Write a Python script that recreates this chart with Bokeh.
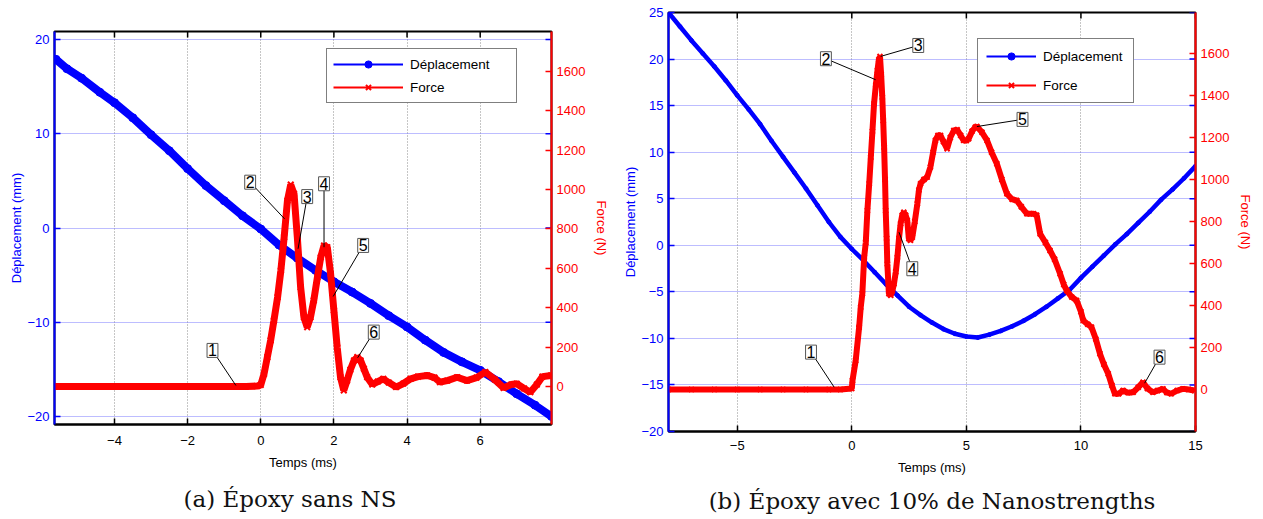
from math import pi
from bokeh.plotting import figure
from bokeh.models import Range1d, LinearAxis, FixedTicker, Legend, LegendItem, Title
from bokeh.embed import file_html
from bokeh.resources import INLINE
from bokeh.core.properties import value

# ---------------- Panel (a): Époxy sans NS ----------------
a_time_disp = [-5.6, -5.3, -4.9, -4.4, -4.0, -3.5, -3.0, -2.5, -2.0, -1.5, -1.0, -0.5, 0.0,
               0.5, 1.0, 1.5, 2.0, 2.5, 3.0, 3.5, 4.0, 4.5, 5.0, 5.5, 6.0, 6.5, 7.0, 7.5, 7.95]
a_disp = [17.9, 16.9, 15.9, 14.4, 13.3, 11.7, 9.9, 8.2, 6.3, 4.5, 2.9, 1.3, -0.1,
          -1.8, -3.2, -4.5, -5.7, -6.8, -8.0, -9.3, -10.5, -11.9, -13.2, -14.2, -15.1, -16.3, -17.6, -18.8, -20.0]

a_time_force = [-5.64, -5.2, -4.8, -4.4, -4.0, -3.6, -3.2, -2.8, -2.4, -2.0, -1.6, -1.2, -0.8, -0.4, -0.1,
                0.0, 0.09, 0.18, 0.27, 0.36, 0.46, 0.55, 0.64, 0.73, 0.82,
                0.91, 1.0, 1.09, 1.18, 1.27, 1.36, 1.45, 1.55, 1.64, 1.73,
                1.82, 1.91, 2.0, 2.09, 2.18, 2.27, 2.36, 2.45, 2.55, 2.64,
                2.73, 2.82, 2.91, 3.05, 3.2, 3.35, 3.5, 3.7, 3.9, 4.1,
                4.3, 4.55, 4.75, 4.9, 5.1, 5.37, 5.64, 5.9, 6.14, 6.4,
                6.64, 6.85, 7.0, 7.2, 7.37, 7.55, 7.7, 7.94]
a_force = [0, 0, 0, 0, 0, 0, 0, 0, 0, 0, 0, 0, 0, 0, 2,
           8, 64, 149, 234, 335, 453, 589, 758, 944, 1025,
           978, 758, 504, 352, 301, 352, 437, 555, 656, 716,
           707, 572, 386, 199, 47, -20, 30, 85, 132, 149,
           132, 90, 47, 10, 25, 39, 20, -3, 15, 39,
           50, 56, 45, 22, 30, 47, 30, 45, 73, 35,
           -7, 10, 14, -10, -29, 10, 50, 56]

a_x_ticks = [-4, -2, 0, 2, 4, 6]
a_disp_ticks = [-20, -10, 0, 10, 20]

a_ann_labels = ["1", "2", "3", "4", "5", "6"]
a_ann_box_t = [-1.32, -0.29, 1.27, 1.73, 2.80, 3.09]
a_ann_box_f = [183, 1037, 964, 1029, 716, 276]
a_ann_tip_t = [-0.68, 0.65, 1.02, 1.73, 1.98, 2.65]
a_ann_tip_f = [5, 851, 699, 707, 457, 146]

# ---------------- Panel (b): Époxy avec 10% de Nanostrengths ----------------
b_time_disp = [-8.0, -7.5, -7.0, -6.5, -6.0, -5.5, -5.0, -4.5, -4.0, -3.5, -3.0, -2.5, -2.0, -1.5, -1.0, -0.5,
               0.0, 0.5, 1.0, 1.5, 2.0, 2.5, 3.0, 3.5, 4.0, 4.5, 5.0, 5.5, 6.0, 6.5, 7.0, 7.5,
               8.0, 8.5, 9.0, 9.5, 10.0, 10.5, 11.0, 11.5, 12.0, 12.5, 13.0, 13.5, 14.0, 14.5, 15.0]
b_disp = [25.0, 23.5, 22.0, 20.6, 19.2, 17.7, 16.1, 14.6, 13.0, 11.2, 9.5, 7.8, 6.1, 4.3, 2.5, 0.9,
          -0.4, -1.6, -2.9, -4.2, -5.4, -6.6, -7.5, -8.3, -9.0, -9.5, -9.8, -9.9, -9.6, -9.2, -8.7, -8.1,
          -7.4, -6.6, -5.7, -4.8, -3.5, -2.3, -1.1, 0.1, 1.2, 2.4, 3.6, 4.9, 6.0, 7.2, 8.5]

b_time_force = [-8.0, -7.0, -6.0, -5.0, -4.0, -3.0, -2.0, -1.0, -0.5, 0.0,
                0.03, 0.17, 0.32, 0.39, 0.46, 0.54, 0.61, 0.68, 0.76, 0.83,
                0.9, 0.97, 1.05, 1.12, 1.18, 1.23, 1.28, 1.33, 1.37, 1.41,
                1.45, 1.48, 1.52, 1.55, 1.62, 1.7, 1.77, 1.84, 1.92, 1.99,
                2.06, 2.13, 2.2, 2.27, 2.35, 2.42, 2.49, 2.56, 2.64, 2.75,
                2.86, 2.93, 3.0, 3.15, 3.29, 3.43, 3.55, 3.65, 3.76, 3.87,
                4.0, 4.16, 4.3, 4.45, 4.6, 4.75, 4.88, 5.0, 5.1, 5.25,
                5.39, 5.46, 5.68, 5.9, 6.1, 6.33, 6.55, 6.77, 7.0, 7.2,
                7.4, 7.64, 7.93, 8.07, 8.22, 8.45, 8.65, 8.85, 9.09, 9.25,
                9.38, 9.6, 9.81, 10.0, 10.1, 10.3, 10.46, 10.65, 10.83, 11.0,
                11.19, 11.35, 11.48, 11.65, 11.84, 12.05, 12.28, 12.5, 12.71, 12.9,
                13.14, 13.35, 13.58, 13.75, 13.94, 14.2, 14.45, 14.7, 14.95]
b_force = [0, 0, 0, 0, 0, 0, 0, 0, 0, 5,
           43, 138, 297, 392, 456, 630, 700, 852, 980, 1106,
           1230, 1360, 1450, 1519, 1570, 1586, 1500, 1392, 1280, 1154,
           1000, 852, 720, 598, 456, 448, 470, 503, 560, 630,
           720, 789, 830, 844, 830, 805, 718, 710, 725, 800,
           884, 950, 980, 1000, 1011, 1059, 1130, 1186, 1210, 1210,
           1180, 1146, 1200, 1233, 1237, 1210, 1186, 1185, 1194, 1230,
           1249, 1252, 1225, 1186, 1130, 1075, 1000, 932, 905, 900,
           870, 837, 837, 830, 741, 700, 662, 620, 551, 500,
           471, 440, 424, 370, 329, 310, 297, 240, 170, 120,
           75, 20, -20, -20, -5, -15, -13, 10, 35, 5,
           -13, -5, 3, -15, -20, -5, 3, 0, -5]

b_x_ticks = [-5, 0, 5, 10, 15]
b_disp_ticks = [-20, -15, -10, -5, 0, 5, 10, 15, 20, 25]

b_ann_labels = ["1", "2", "3", "4", "5", "6"]
b_ann_box_t = [-1.78, -1.13, 2.9, 2.64, 7.45, 13.43]
b_ann_box_f = [178, 1575, 1638, 575, 1286, 154]
b_ann_tip_t = [-0.77, 1.04, 1.26, 2.06, 5.46, 12.78]
b_ann_tip_f = [11, 1475, 1586, 749, 1252, 30]

force_ticks = [0, 200, 400, 600, 800, 1000, 1200, 1400, 1600]

BLUE = "#0000ff"
RED = "#ff0000"
SANS = "Liberation Sans"
SERIF = "DejaVu Serif"


def panel(frame, borders, x_rng, d_rng, f_rng, x_ticks, d_ticks,
          t_d, d, t_f, f, ann, disp_style, force_style, leg, caption, cap_align, cap_offset,
          cap_std, lab_std, x_std):
    p = figure(frame_width=frame[0], frame_height=frame[1],
               x_range=Range1d(*x_rng), y_range=Range1d(*d_rng),
               output_backend="svg", toolbar_location=None,
               min_border_left=borders[0], min_border_right=borders[1],
               min_border_top=borders[2], min_border_bottom=borders[3])
    p.extra_y_ranges = {"force": Range1d(*f_rng), "off": Range1d(1e6, 2e6)}
    p.outline_line_color = "black"
    p.outline_line_width = 2
    p.border_fill_color = "white"

    # grid
    p.xgrid.ticker = FixedTicker(ticks=x_ticks)
    p.xgrid.grid_line_color = "#8c8c8c"
    p.xgrid.grid_line_dash = "1 2"
    p.xgrid.grid_line_width = 1
    p.ygrid.ticker = FixedTicker(ticks=d_ticks)
    p.ygrid.grid_line_color = "#7a7aff"
    p.ygrid.grid_line_dash = "1 1"
    p.ygrid.grid_line_width = 1

    # bottom axis
    xa = p.xaxis[0]
    xa.ticker = FixedTicker(ticks=x_ticks)
    xa.axis_line_color = "black"
    xa.axis_line_width = 2
    xa.major_tick_in = 6
    xa.major_tick_out = 0
    xa.major_tick_line_color = "black"
    xa.major_tick_line_width = 1.5
    xa.minor_tick_line_color = None
    xa.major_label_text_font = SANS
    xa.major_label_text_font_size = "13px"
    xa.major_label_text_color = "black"
    xa.major_label_standoff = x_std
    xa.axis_label = "Temps (ms)"
    xa.axis_label_text_font = SANS
    xa.axis_label_text_font_size = "13px"
    xa.axis_label_text_font_style = "normal"
    xa.axis_label_text_color = "black"
    xa.axis_label_standoff = 7

    # left axis (displacement)
    ya = p.yaxis[0]
    ya.ticker = FixedTicker(ticks=d_ticks)
    ya.axis_line_color = BLUE
    ya.axis_line_width = 2
    ya.major_tick_in = 6
    ya.major_tick_out = 0
    ya.major_tick_line_color = BLUE
    ya.major_tick_line_width = 1.5
    ya.minor_tick_line_color = None
    ya.major_label_text_font = SANS
    ya.major_label_text_font_size = "13px"
    ya.major_label_text_color = BLUE
    ya.major_label_standoff = 5
    ya.axis_label = "Déplacement (mm)"
    ya.axis_label_text_font = SANS
    ya.axis_label_text_font_size = "13px"
    ya.axis_label_text_font_style = "normal"
    ya.axis_label_text_color = BLUE
    ya.axis_label_standoff = lab_std

    # right axis (force)
    ra = LinearAxis(y_range_name="force", ticker=FixedTicker(ticks=force_ticks),
                    axis_line_color=RED, axis_line_width=2,
                    major_tick_in=6, major_tick_out=0, major_tick_line_color=RED,
                    major_tick_line_width=1.5, minor_tick_line_color=None,
                    major_label_text_font=SANS, major_label_text_font_size="13px",
                    major_label_text_color=RED, major_label_standoff=5,
                    axis_label="Force (N)", axis_label_text_font=SANS,
                    axis_label_text_font_size="13px", axis_label_text_font_style="normal",
                    axis_label_text_color=RED, axis_label_standoff=6)
    p.add_layout(ra, "right")

    # inward tick marks on the top border and mirrored displacement ticks on the right border
    p.scatter(x=x_ticks, y=[d_rng[1]] * len(x_ticks), marker="dash", angle=pi / 2, size=12,
              line_color="black", line_width=1.5)
    p.scatter(x=[x_rng[1]] * len(d_ticks), y=d_ticks, marker="dash", size=12,
              line_color=BLUE, line_width=1.5)

    # data
    p.line(t_d, d, color=BLUE, line_width=disp_style[0])
    p.scatter(t_d, d, marker="circle", size=disp_style[1], color=BLUE)
    p.line(t_f, f, color=RED, line_width=force_style[0], y_range_name="force")
    p.scatter(t_f, f, marker="x", size=force_style[1], line_width=2, color=RED, y_range_name="force")

    # annotations
    labels, bx, by, tx, ty = ann
    p.segment(x0=bx, y0=by, x1=tx, y1=ty, color="black", line_width=1, y_range_name="force")
    p.text(x=bx, y=by, text=labels, y_range_name="force", text_align="center",
           text_baseline="middle", text_font=value(SANS), text_font_size="16px",
           text_color="black", background_fill_color="white",
           border_line_color="#555555", border_line_width=1, padding=1)

    # legend glyphs (thin line + marker, drawn outside the frame)
    l1 = p.line(t_d, d, color=BLUE, line_width=2, y_range_name="off")
    l1m = p.scatter(t_d, d, marker="circle", size=leg[6], color=BLUE, y_range_name="off")
    l2 = p.line(t_f, f, color=RED, line_width=2, y_range_name="off")
    l2m = p.scatter(t_f, f, marker="x", size=7, line_width=2, color=RED, y_range_name="off")
    legend = Legend(items=[LegendItem(label="Déplacement", renderers=[l1, l1m]),
                           LegendItem(label="Force", renderers=[l2, l2m])],
                    location=(leg[0], leg[1]), margin=0, padding=leg[2], spacing=leg[3],
                    glyph_width=leg[4], glyph_height=18, label_height=18, label_width=leg[5],
                    label_standoff=7, label_text_font=SANS, label_text_font_size="13.5px",
                    label_text_color="black",
                    border_line_color="black", border_line_width=1.5,
                    background_fill_color="white", background_fill_alpha=1)
    p.add_layout(legend)

    cap = Title(text=caption, align=cap_align, offset=cap_offset, text_font=SERIF,
                text_font_size="23px", text_font_style="normal", text_color="#111111",
                standoff=cap_std)
    p.add_layout(cap, "below")
    return p


pa = panel((497, 393), (54, 64, 31, 79), (-5.64, 7.95), (-20.85, 20.85), (-193, 1802),
           a_x_ticks, a_disp_ticks, a_time_disp, a_disp, a_time_force, a_force,
           (a_ann_labels, a_ann_box_t, a_ann_box_f, a_ann_tip_t, a_ann_tip_f),
           (8, 8), (7, 8), (272, 321, 6, 5, 70, 100, 6),
           "(a) Époxy sans NS", "left", 129, 22, 0, 11)

pb = panel((527, 419), (53, 64, 12, 88), (-8, 15), (-20, 25), (-200, 1795),
           b_x_ticks, b_disp_ticks, b_time_disp, b_disp, b_time_force, b_force,
           (b_ann_labels, b_ann_box_t, b_ann_box_f, b_ann_tip_t, b_ann_tip_f),
           (4.5, 4), (6, 7), (309, 328, 8, 11, 50, 82, 3),
           "(b) Époxy avec 10% de Nanostrengths", "center", 0, 16, 0, 9)

TEMPLATE = """
{% block contents %}
<div style="display:flex;flex-direction:row;align-items:flex-start;">
{% for doc in docs %}{% for root in doc.roots %}{{ embed(root) }}{% endfor %}{% endfor %}
</div>
{% endblock %}
"""

open("out.html", "w").write(file_html([pa, pb], INLINE, template=TEMPLATE))
